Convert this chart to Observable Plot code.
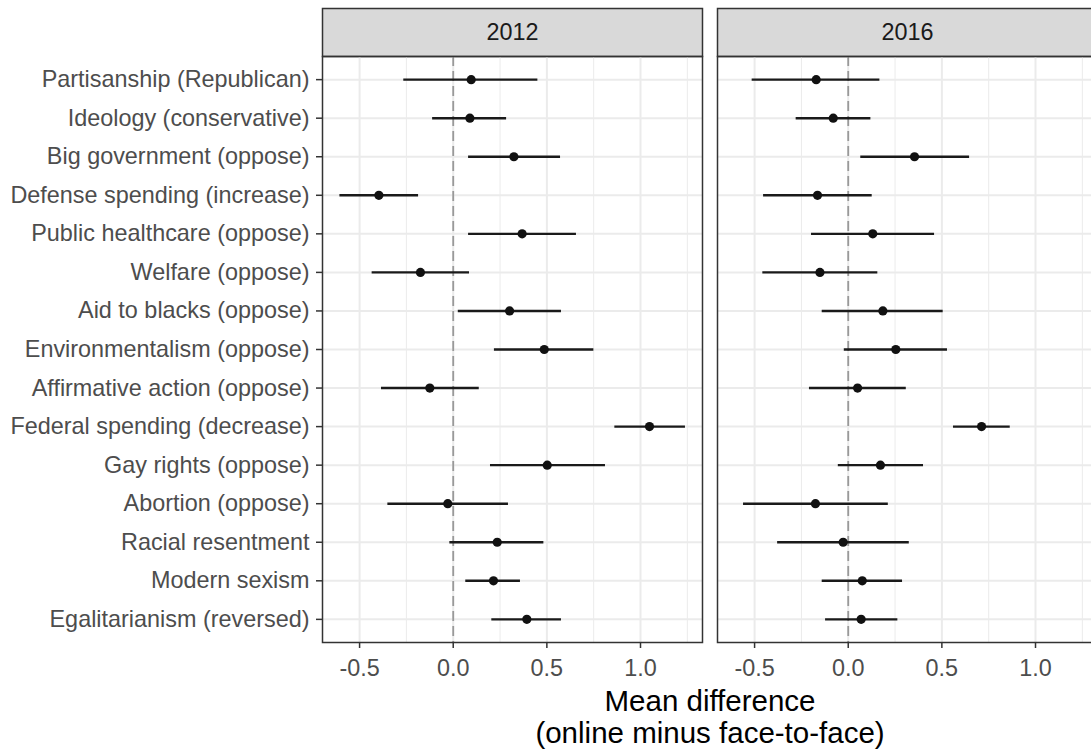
<!DOCTYPE html>
<html>
<head>
<meta charset="utf-8">
<script src="https://cdn.jsdelivr.net/npm/d3@7"></script>
<script src="https://cdn.jsdelivr.net/npm/@observablehq/plot@0.6"></script>
<style>
  html, body { margin: 0; padding: 0; background: #fff; overflow: hidden; width: 1091px; height: 749px; }
</style>
</head>
<body>
<div id="chart"></div>
<script>
const categories = [
  "Partisanship (Republican)",
  "Ideology (conservative)",
  "Big government (oppose)",
  "Defense spending (increase)",
  "Public healthcare (oppose)",
  "Welfare (oppose)",
  "Aid to blacks (oppose)",
  "Environmentalism (oppose)",
  "Affirmative action (oppose)",
  "Federal spending (decrease)",
  "Gay rights (oppose)",
  "Abortion (oppose)",
  "Racial resentment",
  "Modern sexism",
  "Egalitarianism (reversed)"
];
const years = ["2012", "2016"];

const est2012 = [0.096, 0.089, 0.324, -0.397, 0.368, -0.175, 0.301, 0.486, -0.125, 1.048, 0.502, -0.029, 0.235, 0.215, 0.393];
const lo2012  = [-0.264, -0.110, 0.082, -0.605, 0.082, -0.433, 0.027, 0.220, -0.383, 0.863, 0.199, -0.349, -0.018, 0.067, 0.206];
const hi2012  = [0.452, 0.285, 0.573, -0.185, 0.658, 0.087, 0.578, 0.751, 0.139, 1.240, 0.813, 0.295, 0.484, 0.359, 0.578];

const est2016 = [-0.171, -0.080, 0.354, -0.164, 0.131, -0.151, 0.185, 0.254, 0.050, 0.712, 0.172, -0.175, -0.027, 0.075, 0.069];
const lo2016  = [-0.513, -0.278, 0.067, -0.452, -0.196, -0.456, -0.139, -0.021, -0.207, 0.562, -0.053, -0.559, -0.377, -0.139, -0.121];
const hi2016  = [0.169, 0.121, 0.648, 0.128, 0.461, 0.158, 0.507, 0.530, 0.310, 0.865, 0.402, 0.214, 0.326, 0.290, 0.265];

const xTicks = [-0.5, 0, 0.5, 1.0];
const xMinor = [-0.25, 0.25, 0.75, 1.25];
const xTitle = "Mean difference\n(online minus face-to-face)";

const series = {
  "2012": {est: est2012, lo: lo2012, hi: hi2012},
  "2016": {est: est2016, lo: lo2016, hi: hi2016}
};
const rows = [];
for (const yr of years) {
  categories.forEach((c, i) => {
    rows.push({year: yr, category: c, est: series[yr].est[i], lo: series[yr].lo[i], hi: series[yr].hi[i]});
  });
}

const chart = Plot.plot({
  width: 1100,
  height: 749,
  marginLeft: 322,
  marginRight: 3,
  marginTop: 56,
  marginBottom: 107,
  style: {fontFamily: "'Liberation Sans', Arial, sans-serif", fontSize: "23.4px", maxWidth: "none", background: "#fff"},
  x: {domain: [-0.698, 1.331]},
  y: {type: "point", domain: categories, padding: 0.6, round: false},
  fx: {domain: years, paddingInner: 0.038, paddingOuter: 0, axis: null, round: false},
  marks: [
    Plot.frame({fill: "#D9D9D9", stroke: "#333", strokeWidth: 1.5, insetTop: -48, insetBottom: 586}),
    Plot.text(years, {fx: d => d, text: d => d, frameAnchor: "top", lineAnchor: "middle", dy: -24, fill: "#1A1A1A", fontSize: 23.4}),
    Plot.ruleX(xMinor, {stroke: "#EBEBEB", strokeWidth: 1}),
    Plot.ruleX(xTicks, {stroke: "#EBEBEB", strokeWidth: 2}),
    Plot.ruleY(categories, {stroke: "#EBEBEB", strokeWidth: 2}),
    Plot.ruleX([0], {stroke: "#999", strokeWidth: 1.8, strokeDasharray: "10,5"}),
    Plot.ruleY(rows, {y: "category", x1: "lo", x2: "hi", fx: "year", stroke: "#1a1a1a", strokeWidth: 2.4}),
    Plot.dot(rows, {y: "category", x: "est", fx: "year", r: 4.6, fill: "#111", stroke: "none"}),
    Plot.frame({stroke: "#333", strokeWidth: 1.5}),
    Plot.axisY({tickSize: 6, tickPadding: 7, stroke: "#333", strokeWidth: 1.5, fill: "#4D4D4D", fontSize: 23.4, label: null}),
    Plot.axisX({ticks: xTicks, tickFormat: d => d.toFixed(1), tickSize: 6, tickPadding: 11, stroke: "#333", strokeWidth: 1.5, fill: "#4D4D4D", fontSize: 23.4, label: null}),
    Plot.text([xTitle], {facet: "super", frameAnchor: "bottom", lineAnchor: "top", dy: 45, fontSize: 29.5, fill: "#000", lineHeight: 1.1})
  ]
});
document.getElementById("chart").appendChild(chart);
</script>
</body>
</html>
